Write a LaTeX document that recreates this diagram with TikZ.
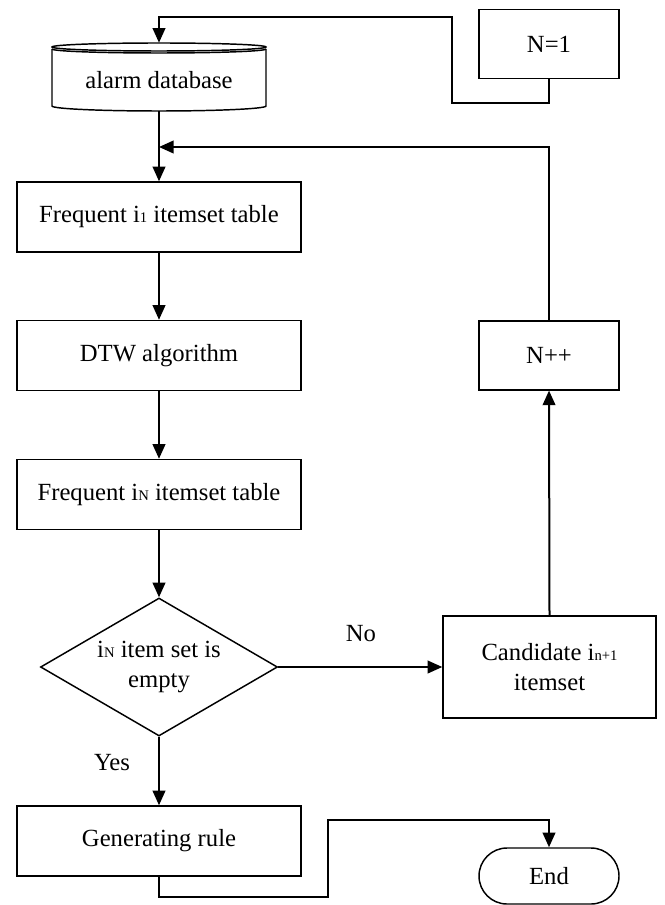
\documentclass[tikz,border=0pt]{standalone}
\usepackage{fontspec}
\setmainfont{Liberation Serif}
\usetikzlibrary{shapes.geometric,arrows.meta}
\newcommand\smallsub[1]{{\fontsize{11}{11}\selectfont #1}}
\begin{document}
\begin{tikzpicture}[x=0.75pt,y=-0.75pt,
  every node/.style={font=\fontsize{18.5}{22}\selectfont},
  shapeline/.style={draw, line width=1.1pt},
  box/.style={shapeline, minimum width=213pt, minimum height=52.5pt, inner sep=0pt, align=center},
  rbox/.style={shapeline, minimum width=105pt, minimum height=51.5pt, inner sep=0pt, align=center},
  candbox/.style={shapeline, minimum width=159.75pt, minimum height=76.5pt, inner sep=0pt, align=center},
  termbox/.style={shapeline, rounded corners=21pt, minimum width=105pt, minimum height=42pt, inner sep=0pt},
  decision/.style={shapeline, diamond, shape aspect=1.72, minimum width=177.75pt, minimum height=103.5pt, inner sep=0pt, align=center},
  conn/.style={line width=1.5pt},
  arr/.style={conn, -{Triangle[length=11pt,width=9.5pt]}},
  lbl/.style={inner sep=0pt}
]
\useasboundingbox (0,0) rectangle (664,905);

% database cylinder
\draw[line width=1.1pt] (52,49) -- (52,106) arc[start angle=180, end angle=360, x radius=80.25pt, y radius=3.75pt] -- (266,49);
\draw[line width=1.1pt] (159,47) ellipse [x radius=80.25pt, y radius=3pt];
\draw[line width=1.1pt] (52,49) arc[start angle=180, end angle=360, x radius=80.25pt, y radius=3pt];
\node[minimum width=160.5pt, minimum height=51pt, inner sep=0pt] (db) at (159,77) {};
\node[lbl] (dbtext) at (159,80) {alarm database};

% boxes
\node[rbox] (n1) at (549,44) {N=1};
\node[box] (b1) at (159,217) {Frequent i\smallsub{1} itemset table};
\node[box] (b2) at (159,355.5) {DTW algorithm};
\node[box] (b3) at (159,494.5) {Frequent i\smallsub{N} itemset table};
\node[decision] (d) at (159,667) {i\smallsub{N} item set is\\empty};
\node[box] (gen) at (159,841) {Generating rule};
\node[rbox] (npp) at (549,355.5) {N++};
\node[candbox] (cand) at (549.5,667) {Candidate i\smallsub{n+1}\\itemset};
\node[termbox] (end) at (549,876) {End};

% labels
\node[lbl] (no) at (361,634) {No};
\node[lbl] (yes) at (112,763) {Yes};

% coordinates
\coordinate (a1) at (452,103);
\coordinate (a2) at (452,17);
\coordinate (a3) at (159,17);
\coordinate (lp) at (159,147);
\coordinate (g1) at (159,897);
\coordinate (g2) at (328,897);
\coordinate (g3) at (328,820);

% connectors
\draw[arr] (n1.south) |- (a1) -- (a2) -- (a3) -- (db.north);
\draw[arr] (db.south) -- (b1.north);
\draw[arr] (npp.north) |- (lp);
\draw[arr] (b1.south) -- (b2.north);
\draw[arr] (b2.south) -- (b3.north);
\draw[arr] (b3.south) -- (d.north);
\draw[arr] (d.south) -- (gen.north);
\draw[arr] (d.east) -- (cand.west);
\draw[arr] (cand.north) -- (npp.south);
\draw[arr] (gen.south) -- (g1) -- (g2) -- (g3) -| (end.north);
\end{tikzpicture}
\end{document}
